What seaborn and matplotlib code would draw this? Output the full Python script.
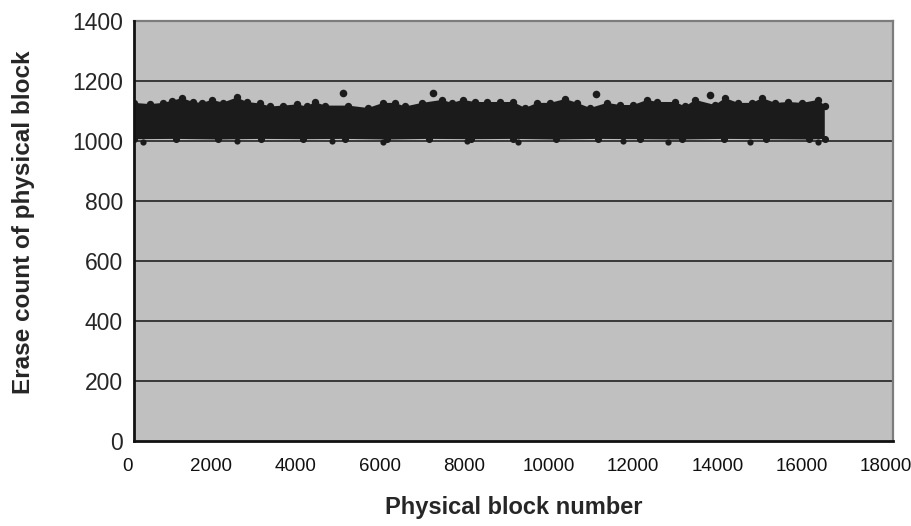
import matplotlib

matplotlib.use("agg")

import numpy as np
import matplotlib.pyplot as plt
import matplotlib.transforms as mtrans
import seaborn as sns

# upper edge of the dense cloud (block number, erase count)
top_blocks = [0, 380, 690, 900, 1140, 1400, 1610, 1850, 2110, 2440, 2680, 2990,
              3230, 3530, 3870, 4100, 4290, 4530, 5080, 5550, 5910, 6190, 6430,
              6830, 7310, 7540, 7800, 8090, 8370, 8680, 8990, 9280, 9560, 9870,
              10230, 10510, 10820, 11220, 11530, 11840, 12170, 12410, 12840,
              13070, 13310, 13780, 14020, 14330, 14660, 14900, 15210, 15520,
              15850, 16230, 16383]
top_counts = [1127, 1123, 1127, 1134, 1143, 1130, 1127, 1137, 1128, 1145, 1130, 1125,
              1115, 1118, 1122, 1115, 1130, 1118, 1118, 1110, 1127, 1127, 1115,
              1127, 1137, 1127, 1137, 1130, 1130, 1130, 1130, 1110, 1127, 1127,
              1140, 1127, 1110, 1127, 1120, 1120, 1137, 1130, 1130,
              1115, 1137, 1120, 1143, 1127, 1127, 1143, 1127, 1130,
              1127, 1137, 1118]

# lower edge of the cloud
low_blocks = [0, 1000, 2000, 3000, 4000, 5000, 6000, 7000, 8000, 9000, 10000,
              11000, 12000, 13000, 14000, 15000, 16000, 16383]
low_counts = [1006, 1007, 1005, 1007, 1006, 1007, 1005, 1007, 1006, 1007, 1005,
              1007, 1006, 1005, 1007, 1006, 1005, 1007]

# single dots sticking out below the cloud
low_dot_blocks = [210, 2440, 4700, 5910, 7900, 9110, 11600, 12670, 14620, 16230]
low_dot_counts = [998, 999, 999, 998, 999, 997, 999, 997, 998, 998]

# isolated high points above the cloud
out_blocks = [4960, 7090, 10960, 13670]
out_counts = [1159, 1159, 1155, 1153]

x_ticks = list(range(0, 18001, 2000))
y_ticks = list(range(0, 1401, 200))

sns.set_style("white")
plt.rcParams["font.family"] = ["Liberation Sans", "DejaVu Sans"]

fig = plt.figure(figsize=(9.11, 5.26), dpi=100)
ax = fig.add_axes([0.1471, 0.1616, 0.8331, 0.7985])
ax.set_facecolor("#c0c0c0")

dot_col = "#1b1b1b"

# solid body of the cloud
ax.fill(np.r_[top_blocks, low_blocks[::-1]], np.r_[top_counts, low_counts[::-1]],
        color=dot_col, lw=0, zorder=3)

# round markers along the edges and the outliers
sns.scatterplot(x=top_blocks, y=top_counts, s=28, color=dot_col, linewidth=0, ax=ax, zorder=4)
sns.scatterplot(x=low_blocks, y=low_counts, s=26, color=dot_col, linewidth=0, ax=ax, zorder=4)
sns.scatterplot(x=low_dot_blocks, y=low_dot_counts, s=20, color=dot_col, linewidth=0, ax=ax, zorder=4)
sns.scatterplot(x=out_blocks, y=out_counts, s=30, color=dot_col, linewidth=0, ax=ax, zorder=4)

ax.set_xlim(0, 18000)
ax.set_ylim(0, 1400)
ax.set_xticks(x_ticks)
ax.set_yticks(y_ticks)
ax.set_xticklabels([])
ax.set_yticklabels([str(v) for v in y_ticks], fontsize=16.5)

# x tick labels sit a little left of their ticks in the original
shift = mtrans.ScaledTranslation(-0.07, 0, fig.dpi_scale_trans)
xlab_trans = ax.get_xaxis_transform() + shift
for v in x_ticks:
    ax.text(v, -0.04, str(v), transform=xlab_trans, ha="center", va="top",
            fontsize=13.5, color="#111111")

for v in y_ticks[1:-1]:
    ax.axhline(v, color="#2e2e2e", lw=1.3, zorder=2)

for side in ["top", "right"]:
    ax.spines[side].set_color("#7c7c7c")
    ax.spines[side].set_linewidth(1.6)
for side in ["left", "bottom"]:
    ax.spines[side].set_color("#111111")
    ax.spines[side].set_linewidth(2)
    ax.spines[side].set_zorder(5)

ax.tick_params(axis="y", direction="out", length=5, width=1.3, color="#111111", pad=3)
ax.tick_params(axis="x", direction="out", length=4, width=1.3, color="#111111")

ax.set_xlabel("Physical block number", fontsize=17, fontweight="bold")
ax.xaxis.set_label_coords(0.5, -0.13)
ax.set_ylabel("Erase count of physical block", fontsize=17.5, fontweight="bold")
ax.yaxis.set_label_coords(-0.131, 0.521)

plt.savefig("out.png", dpi=100)
